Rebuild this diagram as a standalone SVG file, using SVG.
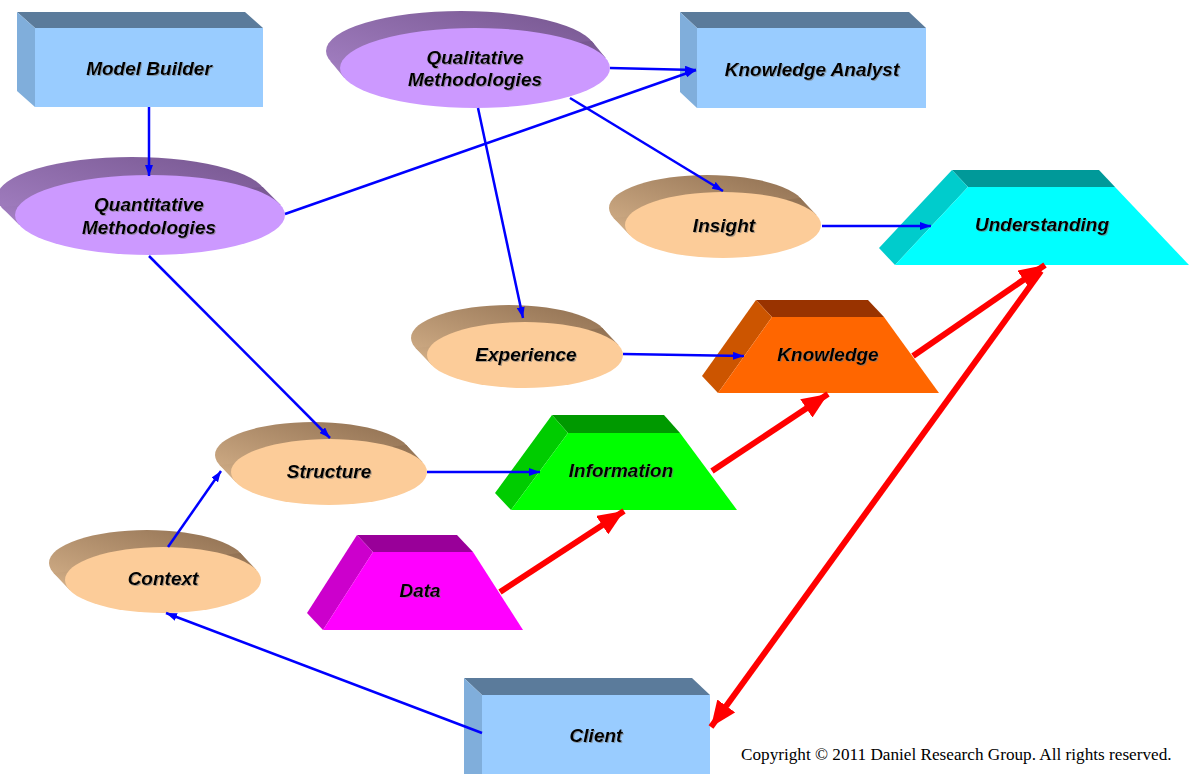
<svg xmlns="http://www.w3.org/2000/svg" width="1189" height="774" viewBox="0 0 1189 774">
<style>
.lbl{font-family:"Liberation Sans",Arial,sans-serif;font-size:19px;font-weight:bold;font-style:italic;fill:#000;text-anchor:middle;filter:url(#ts)}
.copy{font-family:"Liberation Serif","Times New Roman",serif;font-size:17.2px;fill:#000}
.boxF{fill:#99ccff}.boxT{fill:#5b7b9b}.boxL{fill:#80aedb}
.tanF{fill:#fccc99}.tanR{fill:url(#gTan)}
.purF{fill:#cc99ff}.purR{fill:url(#gPur)}
.blue{stroke:#0000ff;stroke-width:2.5;fill:none;marker-end:url(#aB)}
.red{stroke:#ff0000;stroke-width:6;fill:none;marker-end:url(#aR)}
</style>
<defs>
<linearGradient id="gTan" x1="0" y1="1" x2="1" y2="0">
<stop offset="0" stop-color="#d8b48c"/><stop offset="1" stop-color="#8e6e50"/>
</linearGradient>
<linearGradient id="gPur" x1="0" y1="1" x2="1" y2="0">
<stop offset="0" stop-color="#a884c8"/><stop offset="1" stop-color="#76568f"/>
</linearGradient>
<filter id="ts" x="-10%" y="-30%" width="120%" height="160%">
<feDropShadow dx="1" dy="1" stdDeviation="0.6" flood-color="#777" flood-opacity="0.6"/>
</filter>
<marker id="aB" markerUnits="userSpaceOnUse" markerWidth="11" markerHeight="8" refX="11" refY="4" orient="auto">
<path d="M0,0 L11,4 L0,8 z" fill="#0000ff"/>
</marker>
<marker id="aR" markerUnits="userSpaceOnUse" markerWidth="26" markerHeight="22" refX="26" refY="11" orient="auto">
<path d="M0,0 L26,11 L0,22 z" fill="#ff0000"/>
</marker>
</defs>
<rect width="1189" height="774" fill="#ffffff"/>

<g id="model-builder">
<polygon class="boxT" points="35,28 263,28 245,12 17,12"/>
<polygon class="boxL" points="17,12 35,28 35,107 17,91"/>
<rect class="boxF" x="35" y="28" width="228" height="79"/>
<text class="lbl" x="149" y="75">Model Builder</text>
</g>

<g id="knowledge-analyst">
<polygon class="boxT" points="697,28 926,28 909,12 680,12"/>
<polygon class="boxL" points="680,12 697,28 697,108 680,92"/>
<rect class="boxF" x="697" y="28" width="229" height="80"/>
<text class="lbl" x="812" y="76">Knowledge Analyst</text>
</g>

<g id="client">
<polygon class="boxT" points="482,695 710,695 692,678 464,678"/>
<polygon class="boxL" points="464,678 482,695 482,774 464,774"/>
<rect class="boxF" x="482" y="695" width="228" height="80"/>
<text class="lbl" x="596" y="742">Client</text>
</g>

<g id="qualitative" transform="translate(475,68)">
<ellipse class="purR" cx="-14" cy="-17" rx="135" ry="40"/>
<polygon class="purR" points="130.7,-10 116.7,-27 -144.7,-7 -130.7,10"/>
<ellipse class="purF" cx="0" cy="0" rx="135" ry="40"/>
<text class="lbl" x="0" y="-4">Qualitative</text>
<text class="lbl" x="0" y="18">Methodologies</text>
</g>

<g id="quantitative" transform="translate(150,215)">
<ellipse class="purR" cx="-18" cy="-18" rx="135" ry="40"/>
<polygon class="purR" points="130.7,-10 112.7,-28 -148.7,-8 -130.7,10"/>
<ellipse class="purF" cx="0" cy="0" rx="135" ry="40"/>
<text class="lbl" x="-1" y="-4">Quantitative</text>
<text class="lbl" x="-1" y="19">Methodologies</text>
</g>

<g id="insight" transform="translate(723,225)">
<ellipse class="tanR" cx="-16" cy="-17" rx="98" ry="33"/>
<polygon class="tanR" points="93.4,-10 77.4,-27 -109.4,-7 -93.4,10"/>
<ellipse class="tanF" cx="0" cy="0" rx="98" ry="33"/>
<text class="lbl" x="1" y="7">Insight</text>
</g>

<g id="experience" transform="translate(525,355)">
<ellipse class="tanR" cx="-16" cy="-17" rx="98" ry="33"/>
<polygon class="tanR" points="93.4,-10 77.4,-27 -109.4,-7 -93.4,10"/>
<ellipse class="tanF" cx="0" cy="0" rx="98" ry="33"/>
<text class="lbl" x="1" y="6">Experience</text>
</g>

<g id="structure" transform="translate(329,472)">
<ellipse class="tanR" cx="-16" cy="-17" rx="98" ry="33"/>
<polygon class="tanR" points="93.4,-10 77.4,-27 -109.4,-7 -93.4,10"/>
<ellipse class="tanF" cx="0" cy="0" rx="98" ry="33"/>
<text class="lbl" x="0" y="6">Structure</text>
</g>

<g id="context" transform="translate(163,580)">
<ellipse class="tanR" cx="-16" cy="-17" rx="98" ry="33"/>
<polygon class="tanR" points="93.4,-10 77.4,-27 -109.4,-7 -93.4,10"/>
<ellipse class="tanF" cx="0" cy="0" rx="98" ry="33"/>
<text class="lbl" x="0" y="5">Context</text>
</g>

<g id="understanding">
<polygon fill="#009999" points="952,170 1099,170 1115,187 968,187"/>
<polygon fill="#00cccc" points="952,170 968,187 895,265 879,248"/>
<polygon fill="#00ffff" points="968,187 1115,187 1189,265 895,265"/>
<text class="lbl" x="1042" y="231">Understanding</text>
</g>

<g id="knowledge">
<polygon fill="#993300" points="756,300 868,300 884,317 772,317"/>
<polygon fill="#cc5500" points="756,300 772,317 718,393 702,376"/>
<polygon fill="#ff6600" points="772,317 884,317 939,393 718,393"/>
<text class="lbl" x="828" y="361">Knowledge</text>
</g>

<g id="information">
<polygon fill="#009900" points="552,415 664,415 680,433 568,433"/>
<polygon fill="#00cc00" points="552,415 568,433 511,510 495,493"/>
<polygon fill="#00ff00" points="568,433 680,433 737,510 511,510"/>
<text class="lbl" x="621" y="477">Information</text>
</g>

<g id="data">
<polygon fill="#990099" points="357,535 457,535 473,552 373,552"/>
<polygon fill="#cc00cc" points="357,535 373,552 323,630 307,613"/>
<polygon fill="#ff00ff" points="373,552 473,552 523,630 323,630"/>
<text class="lbl" x="420" y="597">Data</text>
</g>

<g id="connectors">
<line class="blue" x1="149" y1="107" x2="149" y2="176"/>
<line class="blue" x1="285" y1="214" x2="696" y2="70"/>
<line class="blue" x1="610" y1="68" x2="696" y2="70"/>
<line class="blue" x1="570" y1="98" x2="723" y2="191"/>
<line class="blue" x1="478" y1="108" x2="523" y2="318"/>
<line class="blue" x1="149" y1="256" x2="330" y2="438"/>
<line class="blue" x1="822" y1="226" x2="931" y2="226"/>
<line class="blue" x1="623" y1="354" x2="744" y2="356"/>
<line class="blue" x1="427" y1="472" x2="540" y2="472"/>
<line class="blue" x1="168" y1="547" x2="221" y2="471"/>
<line class="blue" x1="482" y1="733" x2="166" y2="613"/>
<line class="red" x1="500" y1="592" x2="624" y2="511"/>
<line class="red" x1="712" y1="471" x2="828" y2="394"/>
<line class="red" x1="913" y1="356" x2="1045" y2="265"/>
<line class="red" x1="1041" y1="271" x2="711" y2="727"/>
</g>

<text class="copy" x="741" y="760">Copyright © 2011 Daniel Research Group. All rights reserved.</text>
</svg>
